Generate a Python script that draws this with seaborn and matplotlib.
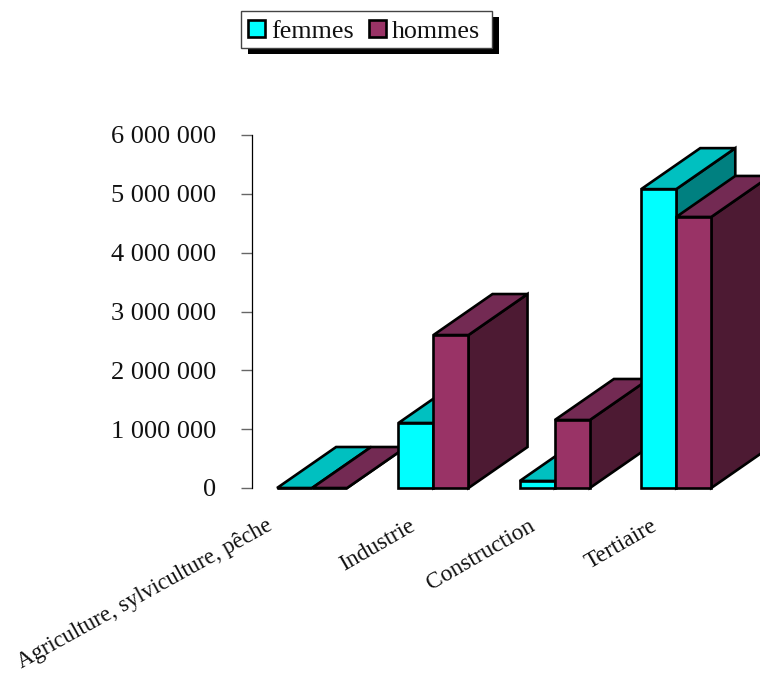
import matplotlib
matplotlib.use("Agg")
import matplotlib.pyplot as plt
from matplotlib.patches import Polygon, Rectangle
from matplotlib.transforms import ScaledTranslation
import pandas as pd
import seaborn as sns

# Actifs par secteur, en nombre de personnes
secteurs = ["Agriculture, sylviculture, pêche", "Industrie", "Construction", "Tertiaire"]
femmes = [0, 1105000, 120000, 5080000]
hommes = [0, 2600000, 1156000, 4607000]
graduations = [0, 1000000, 2000000, 3000000, 4000000, 5000000, 6000000]
etiquettes = ["0", "1 000 000", "2 000 000", "3 000 000", "4 000 000", "5 000 000", "6 000 000"]
couleurs = {"femmes": ("#00FFFF", "#00C0C0", "#008080"),
            "hommes": ("#993366", "#732A53", "#4D1A33")}

W, H = 760, 673
TRAIT = 1.9
sns.set_theme(style="white")
plt.rcParams["font.family"] = ["Liberation Serif", "DejaVu Serif"]

df = pd.DataFrame({
    "secteur": secteurs * 2,
    "sexe": ["femmes"] * len(secteurs) + ["hommes"] * len(secteurs),
    "effectif": femmes + hommes,
})

fig = plt.figure(figsize=(W / 100, H / 100), dpi=100, facecolor="white")
ax = fig.add_axes([252 / W, 1 - 488 / H, (W - 252) / W, 353 / H])

sns.barplot(data=df, x="secteur", y="effectif", hue="sexe",
            palette={k: v[0] for k, v in couleurs.items()},
            saturation=1, width=0.577, gap=0, dodge=True,
            edgecolor="black", linewidth=TRAIT, ax=ax)

ax.set_xlim(-0.495, 3.69)
ax.set_ylim(0, 6000000)
ax.set_xlabel("")
ax.set_ylabel("")
ax.patch.set_alpha(0)

# Profondeur oblique, exprimée en unités des axes
prof_x = 59 / 121.3
prof_y = 41 / 353 * 6000000

# Peintre de gauche à droite : chaque barre recouvre la précédente
for i_hue, (conteneur, sexe) in enumerate(zip(ax.containers, couleurs)):
    _, dessus, cote = couleurs[sexe]
    for i_cat, barre in enumerate(conteneur):
        z = 3 + i_cat + i_hue * 0.4
        x0, x1 = barre.get_x(), barre.get_x() + barre.get_width()
        h = barre.get_height()
        style = dict(edgecolor="black", linewidth=TRAIT, joinstyle="miter",
                     clip_on=False, zorder=z)
        ax.add_patch(Polygon([(x1, 0), (x1 + prof_x, prof_y), (x1 + prof_x, h + prof_y), (x1, h)],
                             facecolor=cote, **style))
        ax.add_patch(Polygon([(x0, h), (x0 + prof_x, h + prof_y), (x1 + prof_x, h + prof_y), (x1, h)],
                             facecolor=dessus, **style))
        barre.set_zorder(z + 0.1)
        barre.set_clip_on(False)
        barre.set_joinstyle("miter")

for cote_axe in ("top", "right", "bottom"):
    ax.spines[cote_axe].set_visible(False)
ax.spines["left"].set_color("black")
ax.spines["left"].set_linewidth(0.9)

ax.set_yticks(graduations)
ax.set_yticklabels(etiquettes, fontsize=19, color="#111111")
ax.tick_params(axis="y", left=True, length=8, width=1.0, color="#666666", pad=18)
ax.tick_params(axis="x", bottom=False, length=0)

ax.set_xticks(range(len(secteurs)))
ax.set_xticklabels(secteurs, fontsize=16.9, rotation=30, ha="right",
                   rotation_mode="anchor", color="#111111")
for lab, dx, dy, angle, corps in zip(ax.get_xticklabels(), (-46, -25, -27, -26),
                                     (-22, -23, -23, -23), (29, 30, 30, 30),
                                     (16.4, 16.9, 16.9, 16.9)):
    lab.set_rotation(angle)
    lab.set_fontsize(corps)
    lab.set_transform(lab.get_transform()
                      + ScaledTranslation(dx / 100, dy / 100, fig.dpi_scale_trans))

# Légende sans cadre propre : le cadre et son ombre noire sont posés dessous
sns.move_legend(ax, loc="upper left", bbox_to_anchor=(241 / W, 1 - 13 / H),
                bbox_transform=fig.transFigure, ncol=2, title=None, frameon=False,
                borderaxespad=0, borderpad=0.277, fontsize=18.7,
                handlelength=0.66, handleheight=0.6, handletextpad=0.24,
                columnspacing=0.56)
leg = ax.get_legend()
leg.set_zorder(30)
for poignee in leg.legend_handles:
    poignee.set_edgecolor("black")
    poignee.set_linewidth(TRAIT)
for texte in leg.get_texts():
    texte.set_color("#111111")

fig.add_artist(Rectangle((248, H - 54), 251, 37, transform=None,
                         facecolor="black", edgecolor="none", zorder=-2))
fig.add_artist(Rectangle((241, H - 48), 251, 37, transform=None,
                         facecolor="white", edgecolor="#444444", linewidth=1.0, zorder=-1))

fig.savefig("out.png", dpi=100, facecolor="white")
